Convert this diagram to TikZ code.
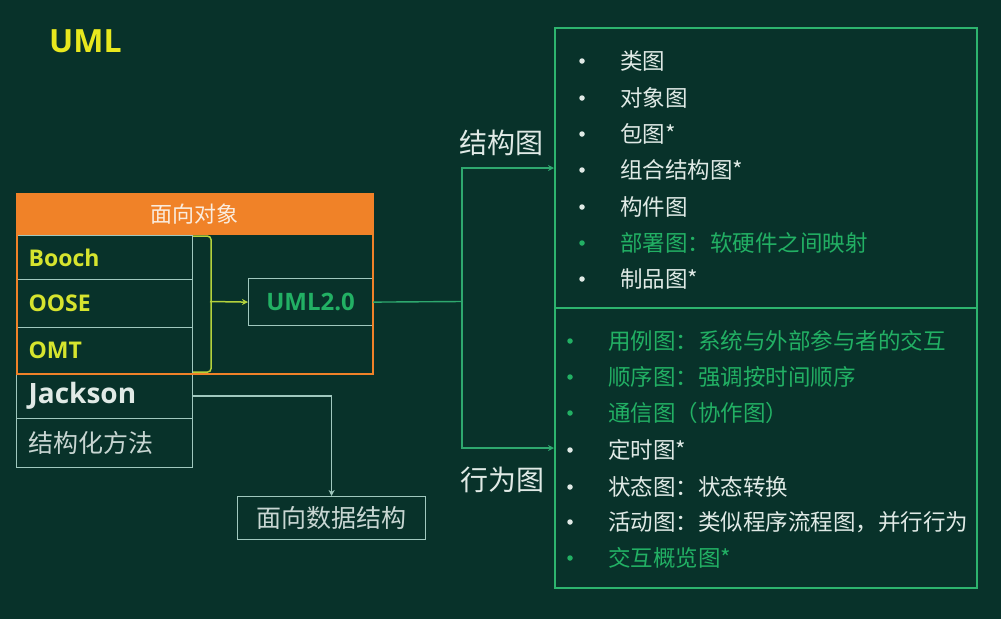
\documentclass[tikz,border=0pt]{standalone}
\usepackage{fontspec}
\setmainfont{Noto Sans CJK SC}
\newfontfamily\lat{Open Sans}
\usetikzlibrary{arrows.meta}
\definecolor{bg}{RGB}{8,50,42}
\definecolor{orng}{RGB}{240,130,40}
\definecolor{hdr}{RGB}{250,236,222}
\definecolor{cellb}{RGB}{160,200,190}
\definecolor{ylw}{RGB}{214,228,46}
\definecolor{umly}{RGB}{232,232,30}
\definecolor{brc}{RGB}{180,210,60}
\definecolor{grt}{RGB}{34,176,100}
\definecolor{grl}{RGB}{46,168,110}
\definecolor{boxg}{RGB}{45,180,110}
\definecolor{wht}{RGB}{224,234,230}
\definecolor{gry}{RGB}{200,214,210}
\newcommand\fsz[1]{\fontsize{#1}{#1}\selectfont}
\tikzset{
  cell/.style={draw=cellb, line width=1.2pt, anchor=north west, minimum height=#1,
    text width=152pt, inner xsep=12pt, inner ysep=0pt, align=left},
  latb/.style={font=\lat\bfseries\fsz{23}, text=ylw},
  cellline/.style={draw=cellb, line width=1.3pt},
  grline/.style={draw=grl, line width=1.4pt},
  tip/.style={-{Stealth[length=6pt,width=6pt]}},
  bigbox/.style={draw=boxg, line width=2pt, anchor=north west, minimum width=422pt, minimum height=280pt},
  item/.style={anchor=west, inner sep=0pt, font=\fsz{22.5}},
  dot/.style={circle, fill=#1, inner sep=0pt, minimum size=5.5pt},
  lbl/.style={text=wht, font=\fsz{28}, inner sep=0pt},
}
\begin{document}
\begin{tikzpicture}[x=1pt,y=-1pt]
\fill[bg] (0,0) rectangle (1001,619);
\useasboundingbox (0,0) rectangle (1001,619);

\node[text=umly, font=\lat\bfseries\fsz{32}, anchor=west, inner sep=0pt] (title) at (49,41) {UML};

% left cells
\node[cell=44pt, latb] (bo) at (16,235) {Booch};
\node[cell=48pt, latb] (oo) at (16,279) {OOSE};
\node[cell=46pt, latb] (om) at (16,327) {OMT};
\node[cell=45pt, font=\lat\bfseries\fsz{28}, text=wht] (ja) at (16,373) {Jackson};
\node[cell=49pt, font=\fsz{25}, text=gry] (sm) at (16,418) {结构化方法};

% UML2.0
\node[draw=cellb, line width=1.2pt, anchor=north west, minimum width=124pt, minimum height=47pt,
  text=grt, font=\lat\bfseries\fsz{24}] (u2) at (248,278) {UML2.0};

% orange frame
\node[draw=orng, line width=2pt, anchor=north west, minimum width=356pt, minimum height=180pt] (of) at (16,193) {};
\node[fill=orng, anchor=north west, minimum width=357pt, minimum height=42pt, text=hdr, font=\fsz{22}] (hd) at (15.5,192.5) {面向对象};

% brace
\draw[brc, line width=1.5pt, rounded corners=4pt] ([yshift=-1pt]bo.north east) -- ++(18,0) |- ([yshift=2pt]om.south east);
\coordinate (bm) at (210,301.5);
\draw[brc, line width=1.5pt, tip] (bm) -- (u2.west);

% data structure
\node[draw=cellb, line width=1.2pt, anchor=north west, minimum width=188pt, minimum height=43pt,
  text=gry, font=\fsz{25}] (ds) at (237,496) {面向数据结构};
\draw[cellline, tip] (ja.east) -| (ds.north);

% right boxes
\node[bigbox] (sb) at (554,27) {};
\node[bigbox] (bb) at (554,307) {};

\coordinate (jn) at (462,301.5);
\draw[grline] (u2.east) -- (jn);
\draw[grline, tip] (jn) |- (sb.west);
\draw[grline, tip] (jn) |- (bb.west);

\node[lbl] (l1) at (501,143) {结构图};
\node[lbl] (l2) at (502,480) {行为图};

% structure list
\foreach \y/\t/\c [count=\i] in {61/类图/wht, 98/对象图/wht, 134/包图*/wht, 170/组合结构图*/wht,
   207/构件图/wht, 243/部署图：软硬件之间映射/grt, 279/制品图*/wht}{
  \node[dot=\c] (sd\i) at (582,\y) {};
  \node[item, text=\c] (st\i) at (620,\y) {\t};
}
% behaviour list
\foreach \y/\t/\c [count=\i] in {341/用例图：系统与外部参与者的交互/grt, 377/顺序图：强调按时间顺序/grt,
   413/通信图（协作图）/grt, 450/定时图*/wht, 487/状态图：状态转换/wht,
   522/活动图：类似程序流程图，并行行为/wht, 558/交互概览图*/grt}{
  \node[dot=\c] (bd\i) at (570,\y) {};
  \node[item, text=\c] (bt\i) at (608,\y) {\t};
}
\end{tikzpicture}
\end{document}
